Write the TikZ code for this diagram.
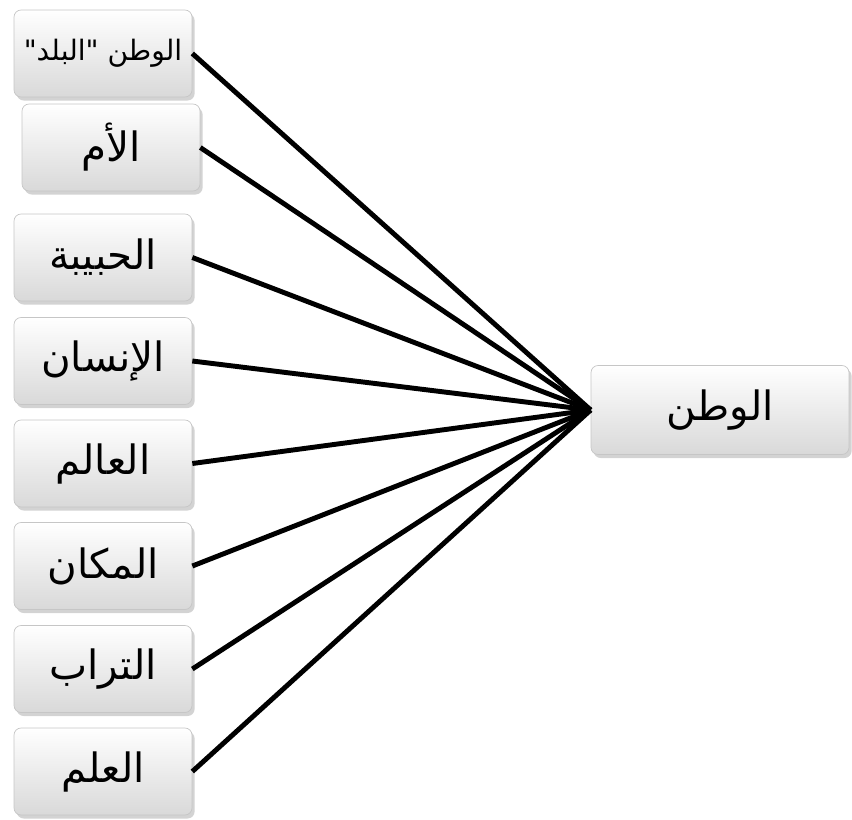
\documentclass[tikz,border=0pt]{standalone}
\usepackage{fontspec}
\newfontfamily\arabicfont[Script=Arabic]{DejaVu Sans}
\TeXXeTstate=1
\usetikzlibrary{positioning,shadows}

\begin{document}
\begin{tikzpicture}[x=0.02cm,y=-0.02cm,
            box/.style={rectangle,rounded corners=4pt,draw=gray!45,thin,
              top color=white,bottom color=gray!30,
              drop shadow={shadow xshift=1.5pt,shadow yshift=-2pt,opacity=0.35},
              minimum width=3.56cm,minimum height=1.74cm,align=center,
              font=\arabicfont\fontsize{23}{26}\selectfont},
            small/.style={box,font=\arabicfont\fontsize{16}{19}\selectfont},
            target/.style={box,minimum width=5.16cm,minimum height=1.78cm},
            every edge/.style={draw,line width=2.8pt}
          ]
          \useasboundingbox (0,0) rectangle (852,819);

          % target
          \node[target] (watan) at (720,410) {\beginR الوطن\endR};

          % words
          \node[small] (balad) at (103,53.5) {\beginR الوطن "البلد"\endR};
          \node[box] (umm) at (111,147.5) {\beginR الأم\endR};
          \node[box] (habiba) at (103,257.5) {\beginR الحبيبة\endR};
          \node[box] (insan) at (103,361) {\beginR الإنسان\endR};
          \node[box] (alam) at (103,463.5) {\beginR العالم\endR};
          \node[box] (makan) at (103,566) {\beginR المكان\endR};
          \node[box] (turab) at (103,669) {\beginR التراب\endR};
          \node[box] (alam2) at (103,771.5) {\beginR العلم\endR};

          \path
          (balad.east) edge (watan.west)
          (umm.east) edge (watan.west)
          (habiba.east) edge (watan.west)
          (insan.east) edge (watan.west)
          (alam.east) edge (watan.west)
          (makan.east) edge (watan.west)
          (turab.east) edge (watan.west)
          (alam2.east) edge (watan.west)
          ;

      \end{tikzpicture}
\end{document}
